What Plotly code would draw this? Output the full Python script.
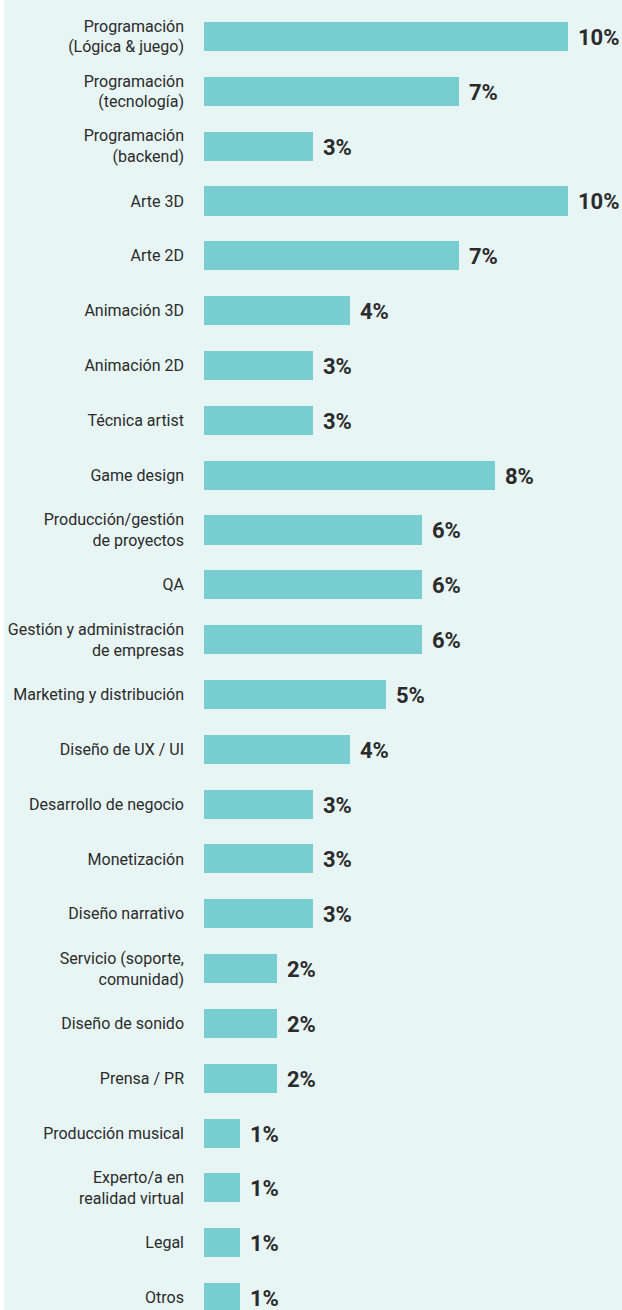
import plotly.graph_objects as go

categories = [
    "Programación<br>(Lógica & juego)",
    "Programación<br>(tecnología)",
    "Programación<br>(backend)",
    "Arte 3D",
    "Arte 2D",
    "Animación 3D",
    "Animación 2D",
    "Técnica artist",
    "Game design",
    "Producción/gestión<br>de proyectos",
    "QA",
    "Gestión y administración<br>de empresas",
    "Marketing y distribución",
    "Diseño de UX / UI",
    "Desarrollo de negocio",
    "Monetización",
    "Diseño narrativo",
    "Servicio (soporte,<br>comunidad)",
    "Diseño de sonido",
    "Prensa / PR",
    "Producción musical",
    "Experto/a en<br>realidad virtual",
    "Legal",
    "Otros",
]
values = [10, 7, 3, 10, 7, 4, 3, 3, 8, 6, 6, 6, 5, 4, 3, 3, 3, 2, 2, 2, 1, 1, 1, 1]
value_labels = [f"{v}%" for v in values]

BAR = "#77cdd0"
BG = "#e8f5f5"
TXT = "#2b2b2b"

W, H = 622, 1310
LEFT = 204
PX_PER_UNIT = 36.4
ROW = 54.83
FIRST = 36.5

fig = go.Figure(go.Bar(
    x=values,
    y=categories,
    orientation="h",
    marker=dict(color=BAR, line=dict(width=0)),
    width=0.53,
    hoverinfo="skip",
))

for c, v, t in zip(categories, values, value_labels):
    fig.add_annotation(
        x=v, y=c, text=f"<b>{t}</b>", showarrow=False,
        xanchor="left", yanchor="middle", xshift=8, yshift=-1,
        font=dict(family="Roboto", size=22, color=TXT),
    )

# thin white strip at the far left (page edge)
fig.add_shape(type="rect", xref="paper", yref="paper",
              x0=-LEFT / (W - LEFT), x1=-(LEFT - 4) / (W - LEFT), y0=0, y1=1,
              fillcolor="white", line=dict(width=0), layer="below")

fig.update_layout(
    width=W, height=H,
    margin=dict(l=LEFT, r=0, t=0, b=0, pad=0),
    paper_bgcolor=BG, plot_bgcolor=BG,
    showlegend=False,
    bargap=0,
    xaxis=dict(range=[0, (W - LEFT) / PX_PER_UNIT], visible=False, fixedrange=True),
    yaxis=dict(
        type="category",
        range=[(H - FIRST) / ROW, -FIRST / ROW],
        showgrid=False, zeroline=False, showline=False,
        ticks="", ticklabelstandoff=19,
        tickfont=dict(family="Roboto", size=16, color=TXT),
        fixedrange=True,
    ),
)

fig.write_html(
    "out.html",
    config={"displayModeBar": False},
    post_script="document.body.style.margin='0';document.body.style.overflow='hidden';",
)
